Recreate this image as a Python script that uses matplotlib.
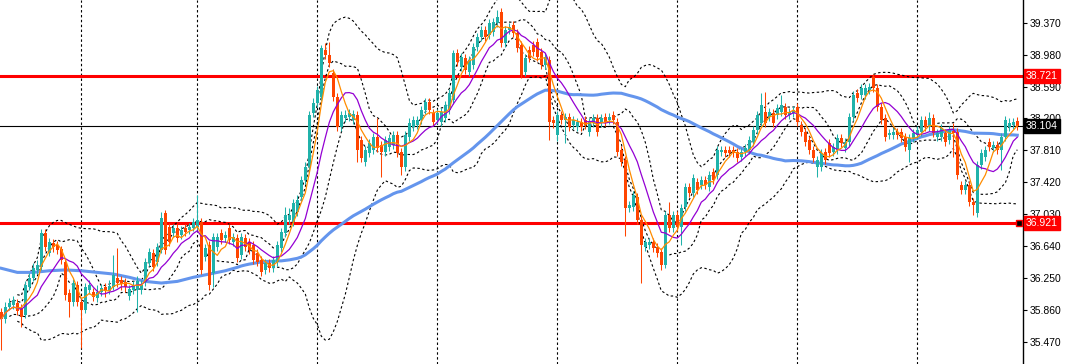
import numpy as np
import pandas as pd
import matplotlib
matplotlib.use('Agg')
import matplotlib.pyplot as plt
import matplotlib.transforms as mtransforms

# OHLC delle candele (H4)
opens = [
    35.84, 35.75, 35.90, 35.92, 35.95, 35.89, 35.80, 36.14, 36.25, 36.35,
    36.39, 36.80, 36.56, 36.68, 36.66, 36.61, 36.45, 36.07, 35.96, 36.17,
    35.96, 35.86, 36.10, 36.08, 36.01, 36.08, 36.14, 36.09, 36.14, 36.25,
    36.23, 36.20, 36.03, 36.10, 36.10, 36.10, 36.20, 36.43, 36.56, 36.45,
    36.59, 37.05, 36.87, 36.80, 36.86, 36.78, 36.86, 36.84, 36.86, 36.87,
    36.94, 36.51, 36.65, 36.31, 36.63, 36.80, 36.74, 36.86, 36.69, 36.74,
    36.53, 36.74, 36.69, 36.65, 36.56, 36.47, 36.35, 36.43, 36.37, 36.45,
    36.62, 36.80, 36.96, 36.94, 37.06, 37.24, 37.45, 37.61, 38.27, 38.39,
    38.46, 39.04, 38.97, 38.76, 38.46, 38.10, 38.21, 38.22, 38.18, 38.24,
    37.94, 37.67, 37.78, 37.82, 37.97, 37.88, 37.79, 37.85, 37.88, 38.00,
    37.79, 37.61, 37.97, 38.10, 38.12, 38.18, 38.30, 38.40, 38.27, 38.18,
    38.16, 38.21, 38.30, 38.43, 39.00, 38.83, 38.94, 38.77, 38.85, 39.07,
    39.19, 39.28, 39.22, 39.26, 39.37, 39.50, 39.12, 39.28, 39.34, 39.24,
    39.10, 38.77, 39.04, 39.10, 39.13, 39.01, 38.85, 38.91, 38.18, 38.00,
    38.24, 38.18, 38.22, 38.12, 38.10, 38.16, 38.18, 38.04, 38.15, 38.21,
    38.15, 38.22, 38.18, 38.24, 38.16, 37.82, 37.69, 37.11, 37.12, 37.24,
    36.96, 36.63, 36.65, 36.69, 36.63, 36.57, 36.41, 37.02, 36.86, 37.02,
    36.87, 37.12, 37.36, 37.29, 37.42, 37.39, 37.45, 37.36, 37.55, 37.51,
    37.79, 37.82, 37.82, 37.82, 37.79, 37.73, 37.79, 37.82, 37.91, 38.06,
    38.15, 38.28, 38.22, 38.27, 38.24, 38.28, 38.34, 38.24, 38.27, 38.34,
    38.12, 38.04, 37.94, 37.82, 37.61, 37.61, 37.79, 37.90, 37.79, 37.82,
    37.96, 37.84, 37.91, 38.22, 38.51, 38.49, 38.49, 38.55, 38.71, 38.57,
    38.34, 38.21, 38.00, 38.00, 38.04, 38.04, 37.97, 37.82, 37.96, 38.00,
    38.04, 38.18, 38.10, 38.21, 37.97, 37.97, 38.02, 37.94, 38.05, 38.04,
    37.39, 37.33, 37.39, 37.18, 37.05, 37.63, 37.73, 37.91, 37.84, 37.88,
    37.82, 37.97, 38.10, 38.12, 38.17]
closes = [
    35.75, 35.90, 35.95, 35.98, 35.85, 35.78, 36.17, 36.25, 36.37, 36.41,
    36.80, 36.63, 36.69, 36.63, 36.59, 36.47, 36.04, 35.96, 36.19, 35.96,
    35.86, 36.14, 36.17, 36.02, 36.08, 36.13, 36.09, 36.15, 36.29, 36.19,
    36.18, 36.14, 36.12, 36.17, 36.21, 36.17, 36.45, 36.57, 36.39, 36.63,
    36.98, 36.59, 36.69, 36.86, 36.74, 36.84, 36.81, 36.87, 36.94, 36.96,
    36.35, 36.62, 36.17, 36.75, 36.75, 36.72, 36.78, 36.72, 36.75, 36.50,
    36.75, 36.63, 36.59, 36.47, 36.45, 36.32, 36.43, 36.37, 36.47, 36.65,
    36.81, 37.02, 37.02, 37.17, 37.20, 37.45, 37.61, 38.24, 38.39, 38.55,
    39.06, 38.97, 38.88, 38.46, 38.10, 38.24, 38.24, 38.27, 38.25, 37.82,
    37.72, 37.82, 37.90, 37.97, 37.84, 37.79, 37.94, 37.96, 38.00, 37.78,
    37.61, 38.00, 38.15, 38.18, 38.18, 38.30, 38.40, 38.30, 38.16, 38.27,
    38.28, 38.36, 38.51, 39.00, 38.89, 38.95, 38.79, 38.91, 39.07, 39.19,
    39.28, 39.19, 39.37, 39.38, 39.44, 39.12, 39.28, 39.32, 39.24, 39.06,
    38.73, 38.94, 38.94, 39.01, 38.95, 38.85, 38.95, 38.16, 38.15, 38.24,
    38.18, 38.22, 38.10, 38.18, 38.16, 38.10, 38.12, 38.16, 38.21, 38.04,
    38.21, 38.16, 38.22, 38.18, 37.79, 37.67, 37.11, 37.14, 37.27, 36.96,
    36.65, 36.69, 36.69, 36.62, 36.56, 36.41, 37.02, 36.86, 37.02, 36.87,
    37.11, 37.36, 37.29, 37.47, 37.33, 37.45, 37.39, 37.51, 37.45, 37.82,
    37.82, 37.78, 37.78, 37.78, 37.72, 37.79, 37.84, 37.94, 38.06, 38.24,
    38.36, 38.15, 38.28, 38.15, 38.33, 38.36, 38.24, 38.28, 38.30, 38.16,
    38.04, 37.91, 37.82, 37.72, 37.69, 37.78, 37.69, 37.78, 37.85, 37.96,
    37.90, 37.91, 38.22, 38.49, 38.45, 38.57, 38.57, 38.58, 38.57, 38.34,
    38.18, 37.97, 38.02, 38.04, 38.00, 37.96, 37.85, 37.96, 38.02, 38.06,
    38.18, 38.10, 38.21, 38.02, 38.02, 38.08, 37.91, 38.06, 38.02, 37.51,
    37.33, 37.39, 37.18, 37.14, 37.63, 37.78, 37.82, 37.85, 37.88, 37.82,
    37.97, 38.18, 38.15, 38.16, 38.104]
highs = [
    35.89, 35.96, 36.01, 36.03, 36.00, 35.93, 36.21, 36.31, 36.43, 36.47,
    36.85, 36.85, 36.74, 36.73, 36.70, 36.64, 36.50, 36.12, 36.24, 36.21,
    36.01, 36.19, 36.23, 36.13, 36.17, 36.18, 36.19, 36.23, 36.53, 36.62,
    36.28, 36.25, 36.17, 36.21, 36.28, 36.23, 36.50, 36.62, 36.61, 36.68,
    37.06, 37.08, 36.92, 36.91, 36.91, 36.89, 36.91, 36.92, 36.98, 37.27,
    36.98, 36.67, 36.70, 36.80, 36.80, 36.85, 36.83, 36.91, 36.80, 36.79,
    36.80, 36.79, 36.74, 36.70, 36.61, 36.52, 36.48, 36.48, 36.52, 36.70,
    36.86, 37.12, 37.11, 37.22, 37.27, 37.50, 37.67, 38.29, 38.45, 38.60,
    39.10, 39.12, 39.13, 38.80, 38.51, 38.29, 38.30, 38.32, 38.30, 38.29,
    37.99, 37.86, 37.95, 38.02, 38.21, 37.92, 37.99, 38.01, 38.05, 38.05,
    37.84, 38.05, 38.20, 38.23, 38.23, 38.35, 38.45, 38.45, 38.32, 38.32,
    38.33, 38.41, 38.56, 39.04, 39.05, 39.00, 38.99, 38.96, 39.12, 39.24,
    39.33, 39.33, 39.41, 39.43, 39.53, 39.55, 39.33, 39.37, 39.39, 39.29,
    39.15, 38.99, 39.09, 39.15, 39.18, 39.06, 39.00, 38.96, 38.23, 38.29,
    38.29, 38.27, 38.27, 38.23, 38.21, 38.21, 38.23, 38.21, 38.25, 38.25,
    38.25, 38.27, 38.27, 38.29, 38.21, 37.86, 37.74, 37.19, 37.31, 37.29,
    37.01, 36.74, 36.74, 36.74, 36.68, 36.62, 37.07, 37.18, 37.07, 37.07,
    37.16, 37.41, 37.41, 37.52, 37.47, 37.50, 37.50, 37.56, 37.59, 37.86,
    37.86, 37.86, 37.86, 37.86, 37.84, 37.84, 37.89, 37.99, 38.11, 38.29,
    38.51, 38.52, 38.33, 38.32, 38.38, 38.49, 38.39, 38.33, 38.35, 38.39,
    38.17, 38.08, 37.99, 37.86, 37.74, 37.83, 37.84, 37.95, 37.90, 38.01,
    38.01, 37.96, 38.27, 38.54, 38.56, 38.62, 38.62, 38.63, 38.74, 38.62,
    38.39, 38.25, 38.07, 38.08, 38.08, 38.08, 38.02, 38.01, 38.07, 38.11,
    38.23, 38.23, 38.28, 38.25, 38.07, 38.13, 38.07, 38.11, 38.14, 38.08,
    37.44, 37.44, 37.44, 37.23, 37.68, 37.83, 37.86, 37.96, 37.92, 37.92,
    38.02, 38.23, 38.20, 38.21, 38.22]
lows = [
    35.37, 35.70, 35.86, 35.87, 35.80, 35.65, 35.76, 36.10, 36.21, 36.30,
    36.35, 36.58, 36.52, 36.57, 36.55, 36.42, 35.98, 35.78, 35.91, 35.91,
    35.40, 35.82, 36.06, 35.97, 35.96, 36.03, 36.02, 36.06, 36.10, 36.14,
    36.10, 36.08, 35.98, 36.06, 35.84, 36.06, 36.15, 36.40, 36.34, 36.40,
    36.56, 36.55, 36.64, 36.75, 36.69, 36.73, 36.76, 36.79, 36.83, 36.84,
    36.30, 36.46, 36.10, 36.14, 36.58, 36.67, 36.69, 36.67, 36.64, 36.45,
    36.48, 36.58, 36.55, 36.42, 36.40, 36.28, 36.30, 36.32, 36.32, 36.40,
    36.57, 36.75, 36.91, 36.89, 37.01, 37.19, 37.40, 37.56, 38.22, 38.34,
    38.41, 38.93, 38.83, 38.41, 38.05, 38.05, 38.16, 38.17, 38.13, 37.67,
    37.67, 37.62, 37.73, 37.77, 37.79, 37.49, 37.74, 37.80, 37.83, 37.73,
    37.51, 37.56, 37.92, 38.05, 38.07, 38.13, 38.25, 38.25, 38.11, 38.13,
    38.11, 38.16, 38.25, 38.38, 38.84, 38.78, 38.74, 38.72, 38.80, 39.02,
    39.15, 39.15, 39.17, 39.21, 39.32, 39.07, 39.07, 39.23, 39.19, 39.01,
    38.69, 38.72, 38.89, 38.96, 38.90, 38.80, 38.80, 37.94, 38.08, 37.92,
    38.13, 37.90, 38.05, 38.07, 38.05, 38.05, 38.07, 37.99, 38.10, 37.99,
    38.10, 38.11, 38.13, 38.13, 37.74, 37.62, 36.77, 37.06, 37.07, 36.91,
    36.19, 36.58, 36.61, 36.57, 36.51, 36.35, 36.37, 36.81, 36.81, 36.83,
    36.65, 37.07, 37.24, 37.24, 37.28, 37.34, 37.34, 37.31, 37.40, 37.46,
    37.74, 37.73, 37.73, 37.73, 37.67, 37.68, 37.74, 37.77, 37.86, 38.01,
    38.10, 38.10, 38.17, 38.10, 38.19, 38.23, 38.19, 38.19, 38.22, 38.11,
    37.99, 37.86, 37.77, 37.67, 37.49, 37.56, 37.64, 37.73, 37.74, 37.77,
    37.85, 37.79, 37.86, 38.17, 38.40, 38.44, 38.44, 38.50, 38.52, 38.29,
    38.13, 37.92, 37.95, 37.95, 37.95, 37.91, 37.80, 37.67, 37.91, 37.95,
    37.99, 38.05, 38.05, 37.97, 37.92, 37.92, 37.86, 37.89, 37.73, 37.46,
    37.28, 37.28, 37.13, 37.02, 37.00, 37.58, 37.68, 37.80, 37.79, 37.77,
    37.57, 37.92, 38.05, 38.07, 38.06]

# media lenta (blu) nelle prime barre (manca lo storico)
ma_slow_head_idx = [0, 4, 8, 12, 16, 20, 24, 28, 32, 36, 40, 44, 48, 52, 56]
ma_slow_head = [36.37, 36.32, 36.32, 36.34, 36.35, 36.34, 36.32, 36.30, 36.26,
                36.21, 36.19, 36.21, 36.26, 36.30, 36.34]
SLOW = 60

# separatori settimanali (indice della barra)
separators = [20, 49, 79, 109, 139, 169, 199, 229]

# livelli orizzontali
resistance = 38.721
support = 36.921
last_price = 38.104

yticks = [35.470, 35.860, 36.250, 36.640, 37.030, 37.420, 37.810, 38.200, 38.590, 38.980, 39.370]

UP = '#20B2AA'
DOWN = '#FF4500'

o = np.array(opens); c = np.array(closes); h = np.array(highs); l = np.array(lows)
n = len(c)
x = np.arange(n)
s = pd.Series(c)

ma_fast = s.rolling(5, min_periods=1).mean()
ma_mid = s.rolling(10, min_periods=1).mean()
ma_slow = s.rolling(SLOW).mean()
mid20 = s.rolling(20, min_periods=5).mean()
sd20 = s.rolling(20, min_periods=5).std(ddof=0)
mid10 = s.rolling(10, min_periods=3).mean()
sd10 = s.rolling(10, min_periods=3).std(ddof=0)

W, H = 1069, 364
fig = plt.figure(figsize=(W / 100, H / 100), dpi=100)
fig.patch.set_facecolor('white')
ax = fig.add_axes([0, 0, 1023 / W, 1])
ax.set_facecolor('white')

ytop = 39.647
ybot = ytop - H * 0.012214
ax.set_ylim(ybot, ytop)
ax.set_xlim(-0.325, -0.325 + 1023 / 4)

# separatori
for sx in separators:
    ax.axvline(sx, color='black', lw=0.8, ls=(0, (2.2, 2.2)), zorder=1)

# linee orizzontali
ax.axhline(last_price, color='black', lw=0.8, zorder=2)
ax.axhline(resistance, color='#FF0000', lw=2.2, zorder=2)
ax.axhline(support, color='#FF0000', lw=2.2, zorder=2)

# bande (tratteggiate)
dash = (0, (2.2, 2.2))
for band in [mid20 + 2 * sd20, mid20 - 2 * sd20, mid10 + sd10, mid10 - sd10]:
    ax.plot(x, band, color='black', lw=0.8, ls=dash, zorder=3)

# media lenta
slow_x = np.r_[ma_slow_head_idx, x[SLOW - 1:]]
slow_y = np.r_[ma_slow_head, ma_slow[SLOW - 1:]]
ax.plot(slow_x, slow_y, color='#6495ED', lw=2.2, zorder=3)

# candele
up = c >= o
col = np.where(up, UP, DOWN)
ax.vlines(x, l, h, colors=col, lw=0.75, zorder=4)
body = np.where(np.abs(c - o) < 0.006, 0.006, c - o)
ax.bar(x, body, bottom=o, width=0.75, color=col, edgecolor=col, lw=0, zorder=5)

# medie veloci
ax.plot(x, ma_mid, color='#9400D3', lw=0.9, zorder=6)
ax.plot(x, ma_fast, color='#FF8C00', lw=0.9, zorder=6)

# asse a destra
for sp in ['left', 'top', 'bottom']:
    ax.spines[sp].set_visible(False)
ax.spines['right'].set_color('black')
ax.spines['right'].set_linewidth(1)
ax.set_xticks([])
ax.yaxis.tick_right()
ax.set_yticks(yticks)
ax.set_yticklabels([f'{v:.3f}' for v in yticks])
ax.tick_params(axis='y', direction='out', length=3, width=0.8, pad=1.5,
               labelsize=7.5, colors='black')
for t in ax.get_yticklabels():
    t.set_fontfamily('Liberation Sans')

# etichette prezzo
trans = mtransforms.blended_transform_factory(ax.transAxes, ax.transData)
for val, bg in [(resistance, '#FF0000'), (last_price, 'black'), (support, '#FF0000')]:
    ax.text(1.003, val, f'{val:.3f}', transform=trans, color='white', fontsize=7.5,
            family='Liberation Sans', va='center', ha='left', clip_on=False, zorder=10,
            bbox=dict(boxstyle='square,pad=0.2', fc=bg, ec=bg))
ax.plot([254.4], [support], marker='s', ms=5, mfc='black', mec='#FF0000', mew=1,
        clip_on=False, zorder=10)

fig.savefig('out.png', dpi=100)
